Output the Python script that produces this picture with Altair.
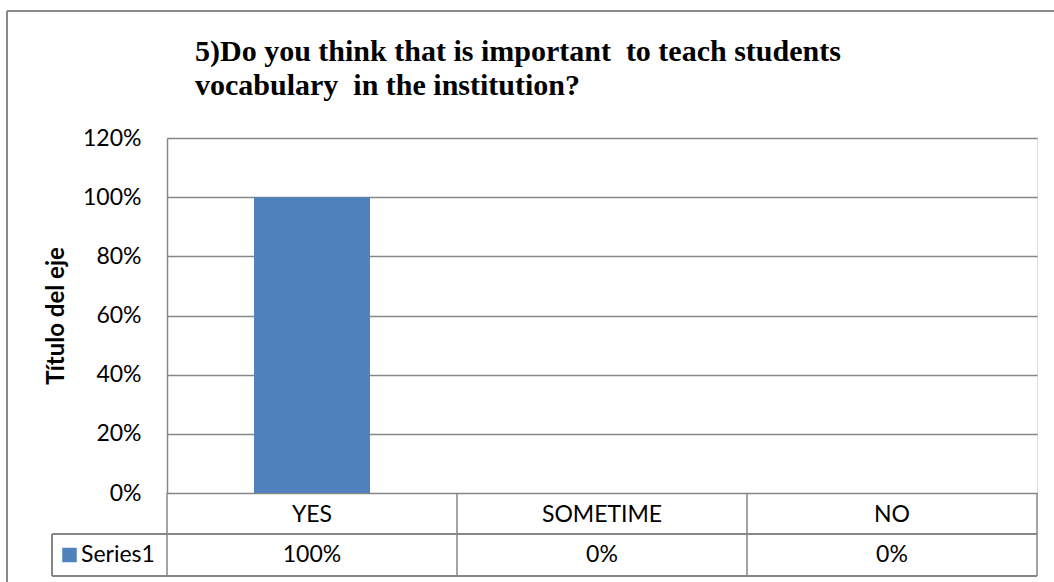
import altair as alt
import pandas as pd

categories = ["YES", "SOMETIME", "NO"]
values = [1.0, 0.0, 0.0]
value_labels = ["100%", "0%", "0%"]
series_name = "Series1"
y_ticks = [0, 0.2, 0.4, 0.6, 0.8, 1.0, 1.2]
title_lines = ["5)Do you think that is important\u00a0 to teach students",
               "vocabulary\u00a0 in the institution?"]
boundaries = [0, 1, 2, 3]

BAR = "#4F81BD"
GRID = "#868686"
W, H = 870, 355
FS = 23

df = pd.DataFrame({"cat": categories, "value": values, "label": value_labels})
bdf = pd.DataFrame({"b": boundaries})

xband = alt.X("cat:N", sort=categories,
              scale=alt.Scale(paddingInner=0.6, paddingOuter=0.3), axis=None)

bars = alt.Chart(df).mark_bar(color=BAR).encode(
    x=xband,
    y=alt.Y("value:Q", scale=alt.Scale(domain=[0, 1.2], nice=False),
            axis=alt.Axis(format="%", values=y_ticks, grid=True, gridColor=GRID,
                          gridWidth=1.5, domainColor=GRID, domainWidth=1.5,
                          ticks=False, labelPadding=26, labelFont="Lato",
                          labelFontSize=FS, labelColor="black",
                          title="Título del eje", titleFont="Lato", titleFontSize=24,
                          titleFontWeight="bold", titleColor="black", titleAngle=-90,
                          titleX=-111, titleY=177.5, titleBaseline="middle",
                          titleAlign="center")),
)

header = alt.Chart(df).mark_text(font="Lato", fontSize=FS, color="black",
                                 baseline="alphabetic").encode(
    x=xband, y=alt.value(384), text="cat:N")

vals = alt.Chart(df).mark_text(font="Lato", fontSize=FS, color="black",
                               baseline="alphabetic").encode(
    x=xband, y=alt.value(424), text="label:N")

vlines = alt.Chart(bdf).mark_rule(color=GRID, strokeWidth=1.5).encode(
    x=alt.X("b:Q", scale=alt.Scale(domain=[0, 3], nice=False), axis=None),
    y=alt.value(H), y2=alt.value(438))

hl1 = alt.Chart(df).mark_rule(color=GRID, strokeWidth=1.5).encode(
    x=alt.value(-115), x2=alt.value(W), y=alt.value(396))
hl2 = alt.Chart(df).mark_rule(color=GRID, strokeWidth=1.5).encode(
    x=alt.value(-115), x2=alt.value(W), y=alt.value(438))
vl_leg = alt.Chart(df).mark_rule(color=GRID, strokeWidth=1.5).encode(
    x=alt.value(-115), y=alt.value(396), y2=alt.value(438))

leg_sq = alt.Chart(pd.DataFrame({"s": [series_name]})).mark_square(
    color=BAR, opacity=1, size=210).encode(x=alt.value(-97.5), y=alt.value(417))
leg_tx = alt.Chart(pd.DataFrame({"s": [series_name]})).mark_text(
    font="Lato", fontSize=FS, color="black", align="left",
    baseline="alphabetic").encode(x=alt.value(-86), y=alt.value(424), text="s:N")

border_l = alt.Chart(df).mark_rule(color="#8a8a8a", strokeWidth=2).encode(
    x=alt.value(-160), y=alt.value(-127), y2=alt.value(450))
border_t = alt.Chart(df).mark_rule(color="#8a8a8a", strokeWidth=2).encode(
    x=alt.value(-160), x2=alt.value(890), y=alt.value(-127))

chart = alt.layer(
    bars, header, vals, vlines, hl1, hl2, vl_leg, leg_sq, leg_tx, border_l, border_t
).resolve_scale(x="independent").properties(
    width=W, height=H,
    autosize=alt.AutoSizeParams(type="none"),
    padding={"left": 167, "top": 138, "right": 17, "bottom": 89},
    title=alt.TitleParams(text=title_lines, anchor="start", frame="group",
                          font="Liberation Serif", fontSize=30, fontWeight="bold",
                          color="black", lineHeight=34, dx=28, dy=91, offset=0),
).configure_view(strokeWidth=0).configure(background="white")

chart.save("out.html", embed_options={"renderer": "svg", "actions": False})
